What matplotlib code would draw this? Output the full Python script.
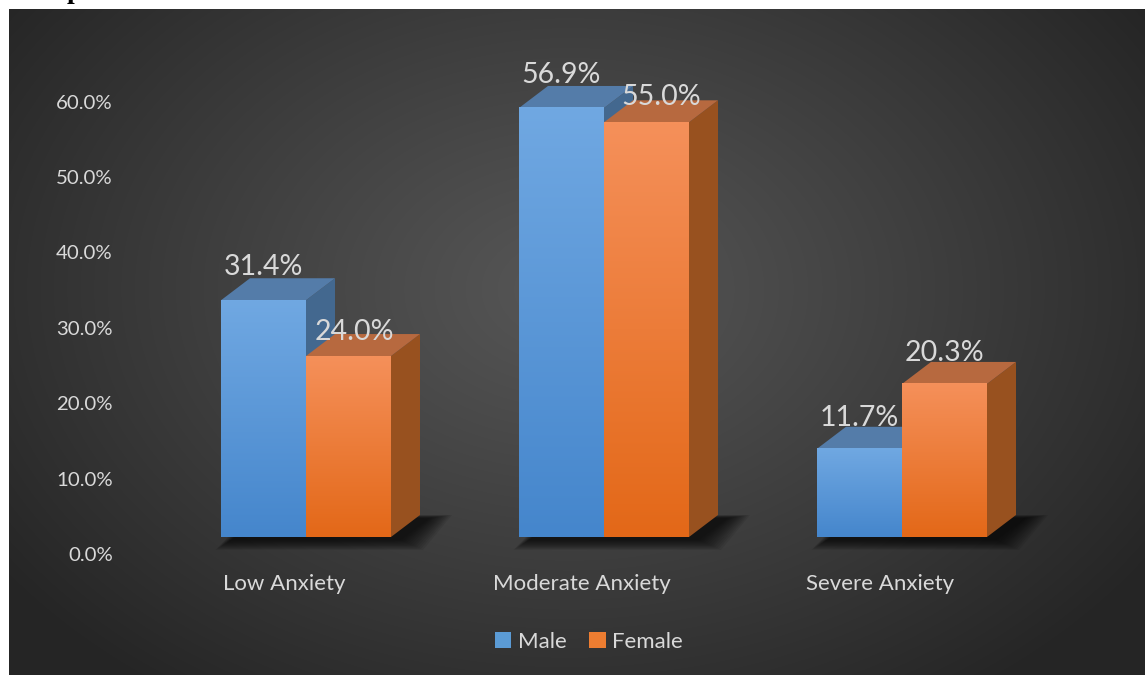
import numpy as np
import matplotlib
matplotlib.use("Agg")
import matplotlib.pyplot as plt
from matplotlib.patches import Polygon, Patch
from matplotlib.transforms import ScaledTranslation

categories = ["Low Anxiety", "Moderate Anxiety", "Severe Anxiety"]
series = ["Male", "Female"]
male = [31.4, 56.9, 11.7]
female = [24.0, 55.0, 20.3]
yticks = [0, 10, 20, 30, 40, 50, 60]

plt.rcParams['font.family'] = ['Lato', 'DejaVu Sans']
txt = '#d9d9d9'

W, H = 1145, 675
DPI = 100
fig = plt.figure(figsize=(W / DPI, H / DPI), dpi=DPI)
fig.patch.set_facecolor('white')

# dark radial background
bg = fig.add_axes([9 / W, 0, 1 - 9 / W, 1 - 9 / H])
bw_px, bh_px = W - 9, H - 9
yy, xx = np.mgrid[0:bh_px, 0:bw_px]
d = np.sqrt(((xx - 560) / 700.) ** 2 + ((yy - 280) / 500.) ** 2)
d = np.clip(d, 0, 1) ** 1.1
c_in = np.array([0x56, 0x56, 0x56]) / 255
c_out = np.array([0x25, 0x25, 0x25]) / 255
bg.imshow(c_in + (c_out - c_in) * d[..., None], aspect='auto', interpolation='bilinear')
bg.axis('off')

# fragment of text above the chart
fig.text(67 / W, 1 + 2 / H, 'p', family='Liberation Serif', weight='bold', fontsize=20,
         color='black', va='baseline', ha='left')

# main axes, mapped in pixels
L, R = 130, 1040
base, top = 537, 60
ppy = 7.54
ppx = 298.
g0 = 306
ax = fig.add_axes([L / W, (H - base) / H, (R - L) / W, (base - top) / H])
ax.patch.set_alpha(0)
for s in ax.spines.values():
    s.set_visible(False)

bw = 85 / ppx
dx = 29 / ppx
dy = 22 / ppy

blue = dict(ft=np.array([0x70, 0xa8, 0xe2]) / 255, fb=np.array([0x45, 0x86, 0xcc]) / 255,
            top='#547ca9', side='#43688f')
orange = dict(ft=np.array([0xf5, 0x90, 0x5a]) / 255, fb=np.array([0xe3, 0x68, 0x18]) / 255,
              top='#b7693f', side='#98511f')


def bar3d(x0, v, c, z):
    x1 = x0 + bw
    ax.add_patch(Polygon([(x1, 0), (x1 + dx, dy), (x1 + dx, v + dy), (x1, v)],
                         closed=True, fc=c['side'], ec='none', zorder=z))
    ax.add_patch(Polygon([(x0, v), (x1, v), (x1 + dx, v + dy), (x0 + dx, v + dy)],
                         closed=True, fc=c['top'], ec='none', zorder=z))
    t = np.linspace(0, 1, 120)[:, None, None]
    g = c['ft'] + (c['fb'] - c['ft']) * t
    ax.imshow(np.repeat(g, 2, axis=1), extent=[x0, x1, 0, v], aspect='auto',
              interpolation='bilinear', zorder=z)


# soft shadows under each group
for i in range(len(categories)):
    xl, xr = i - bw, i + bw
    n = 12
    for k in range(n):
        e = (n - 1 - k) * 2.0
        sx, sy = 10 / ppx, -3 / ppy
        ex, ey = e / ppx, e * 0.45 / ppy
        pts = [(xl + sx - ex * 0.7, sy - ey), (xr + sx + ex, sy - ey),
               (xr + dx + sx + ex, dy + sy + ey * 0.3), (xl + dx + sx - ex * 0.5, dy + sy + ey * 0.3)]
        ax.add_patch(Polygon(pts, closed=True, fc='black', ec='none', alpha=0.08,
                             zorder=1, clip_on=False))

for i in range(len(categories)):
    bar3d(i - bw, male[i], blue, 2 + i * 2)
    bar3d(i, female[i], orange, 3 + i * 2)

ax.set_xlim((L - g0) / ppx, (R - g0) / ppx)
ax.set_ylim(0, (base - top) / ppy)

# value labels
px = 0.72
nudge_m = [(0, 33), (0, 33), (0, 31)]
nudge_f = [(6, 24), (15, 25), (0, 31)]
for i in range(len(categories)):
    ax.annotate(f"{male[i]:.1f}%", (i - bw / 2, male[i]),
                xytext=(nudge_m[i][0] * px, nudge_m[i][1] * px), textcoords='offset points',
                ha='center', va='center', fontsize=20.5, color=txt, zorder=20)
    ax.annotate(f"{female[i]:.1f}%", (i + bw / 2, female[i]),
                xytext=(nudge_f[i][0] * px, nudge_f[i][1] * px), textcoords='offset points',
                ha='center', va='center', fontsize=20.5, color=txt, zorder=20)

# axes ticks
ax.set_yticks(yticks)
ax.set_yticklabels([f"{v:.1f}%" for v in yticks])
ax.tick_params(axis='y', length=0, pad=12.5, labelsize=14.7, labelcolor=txt)
for lab in ax.get_yticklabels():
    lab.set_transform(lab.get_transform() + ScaledTranslation(0, -17 / DPI, fig.dpi_scale_trans))

ax.set_xticks(range(len(categories)))
ax.set_xticklabels(categories)
ax.tick_params(axis='x', length=0, pad=27, labelsize=16, labelcolor=txt)
for lab in ax.get_xticklabels():
    lab.set_transform(lab.get_transform() + ScaledTranslation(-22 / DPI, 0, fig.dpi_scale_trans))

# legend
handles = [Patch(fc='#5b9bd5', ec='none', label=series[0]),
           Patch(fc='#ed7d31', ec='none', label=series[1])]
fig.legend(handles=handles, loc='center', bbox_to_anchor=(589 / W, 1 - 642 / H), ncol=2,
           frameon=False, fontsize=16, labelcolor=txt, handlelength=0.75, handleheight=0.75,
           handletextpad=0.3, columnspacing=1.0)

fig.savefig('out.png', dpi=DPI)
